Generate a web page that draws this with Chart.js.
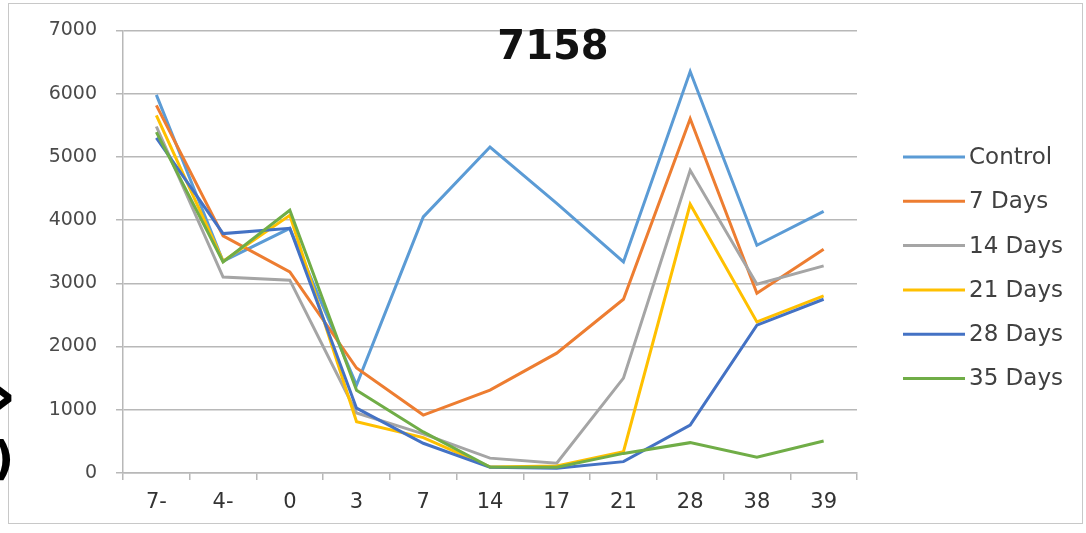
<!DOCTYPE html>
<html>
<head>
<meta charset="utf-8">
<title>7158</title>
<script src="https://cdn.jsdelivr.net/npm/chart.js@4.4.1/dist/chart.umd.min.js"></script>
<style>
    html, body { margin: 0; padding: 0; background: #ffffff; }
    #chart-box { width: 1086px; height: 533px; }
</style>
</head>
<body>
<div id="chart-box">
    <canvas id="days-chart" width="1086" height="533"></canvas>
</div>
<script>
// Sampling points (days)
const categories = ["7-", "4-", "0", "3", "7", "14", "17", "21", "28", "38", "39"];

// Readings per group
const controlValues = [5980, 3350, 3870, 1390, 4050, 5155, 4265, 3338, 6350, 3602, 4139];
const days7Values = [5814, 3750, 3180, 1660, 916, 1311, 1895, 2748, 5603, 2843, 3538];
const days14Values = [5480, 3100, 3050, 950, 620, 235, 155, 1500, 4787, 2985, 3275];
const days21Values = [5656, 3350, 4076, 810, 560, 95, 110, 337, 4250, 2390, 2800];
const days28Values = [5300, 3786, 3870, 1025, 470, 90, 75, 180, 758, 2338, 2748];
const days35Values = [5392, 3338, 4155, 1310, 650, 95, 90, 310, 480, 248, 505];

const seriesLabels = ["Control", "7 Days", "14 Days", "21 Days", "28 Days", "35 Days"];
const seriesColors = ["#5B9BD5", "#ED7D31", "#A5A5A5", "#FFC000", "#4472C4", "#70AD47"];

// Y axis range
const yMin = 0;
const yMax = 7000;
const yStep = 1000;

const titleText = "7158";

document.addEventListener("DOMContentLoaded", function () {
    const allValues = [controlValues, days7Values, days14Values, days21Values, days28Values, days35Values];

    // one line per group, later groups painted on top
    const datasets = allValues.map(function (values, i) {
        return {
            label: seriesLabels[i],
            data: values,
            borderColor: seriesColors[i],
            backgroundColor: seriesColors[i],
            borderWidth: 3,
            pointRadius: 0,
            tension: 0,
            order: allValues.length - i,
        };
    });

    // Title inside the plot, outer frame and the stray pen marks on the left
    const decorPlugin = {
        id: "decor",
        beforeDraw: function (chart) {
            const ctx = chart.ctx;
            ctx.save();
            ctx.fillStyle = "#ffffff";
            ctx.fillRect(0, 0, chart.width, chart.height);
            ctx.strokeStyle = "#c8c8c8";
            ctx.lineWidth = 1;
            ctx.strokeRect(8.5, 3.5, 1074, 520);
            ctx.restore();
        },
        afterDraw: function (chart) {
            const ctx = chart.ctx;
            ctx.save();
            ctx.fillStyle = "#111111";
            ctx.font = "bold 40px 'DejaVu Sans'";
            ctx.textAlign = "center";
            ctx.textBaseline = "middle";
            ctx.fillText(titleText, 553, 49);

            ctx.fillStyle = "#000000";
            ctx.textAlign = "right";
            ctx.font = "bold 72px 'DejaVu Sans'";
            ctx.fillText("\u203A", 17, 400);
            ctx.font = "bold 46px 'DejaVu Sans'";
            ctx.fillText(")", 14, 462);
            ctx.restore();
        },
    };

    // Legend on the right: short line + label for each group
    const legendPlugin = {
        id: "sideLegend",
        afterDraw: function (chart) {
            const ctx = chart.ctx;
            ctx.save();
            ctx.font = "23px 'DejaVu Sans'";
            ctx.textBaseline = "middle";
            ctx.textAlign = "left";
            chart.data.datasets.forEach(function (ds, i) {
                const y = 157 + i * 44.3;
                ctx.strokeStyle = ds.borderColor;
                ctx.lineWidth = 3;
                ctx.beginPath();
                ctx.moveTo(903, y);
                ctx.lineTo(965, y);
                ctx.stroke();
                ctx.fillStyle = "#404040";
                ctx.fillText(ds.label, 969, y + 1);
            });
            ctx.restore();
        },
    };

    const chartCtx = document.getElementById("days-chart").getContext("2d");

    new Chart(chartCtx, {
        type: "line",
        data: {
            labels: categories,
            datasets: datasets,
        },
        options: {
            responsive: false,
            animation: false,
            layout: {
                padding: { left: 0, top: 30, right: 229, bottom: 0 },
            },
            plugins: {
                legend: { display: false },
                tooltip: { enabled: false },
                title: { display: false },
            },
            scales: {
                x: {
                    offset: true,
                    grid: {
                        display: true,
                        offset: true,
                        drawOnChartArea: false,
                        drawTicks: true,
                        tickLength: 7,
                        color: "#b8b8b8",
                        lineWidth: 1.5,
                    },
                    border: { display: true, color: "#b8b8b8", width: 1.5 },
                    ticks: {
                        color: "#333333",
                        font: { family: "DejaVu Sans", size: 21 },
                        padding: 10,
                        maxRotation: 0,
                    },
                    afterFit: function (scale) {
                        scale.height = 60;
                    },
                },
                y: {
                    min: yMin,
                    max: yMax,
                    grid: {
                        color: "#b8b8b8",
                        lineWidth: 1.5,
                        tickLength: 7,
                    },
                    border: { display: true, color: "#b8b8b8", width: 1.5 },
                    ticks: {
                        stepSize: yStep,
                        color: "#4a4a4a",
                        font: { family: "DejaVu Sans", size: 19 },
                        padding: 19,
                        callback: function (value) {
                            return String(value);
                        },
                    },
                    afterFit: function (scale) {
                        scale.width = 123;
                    },
                },
            },
        },
        plugins: [decorPlugin, legendPlugin],
    });
});
</script>
</body>
</html>
